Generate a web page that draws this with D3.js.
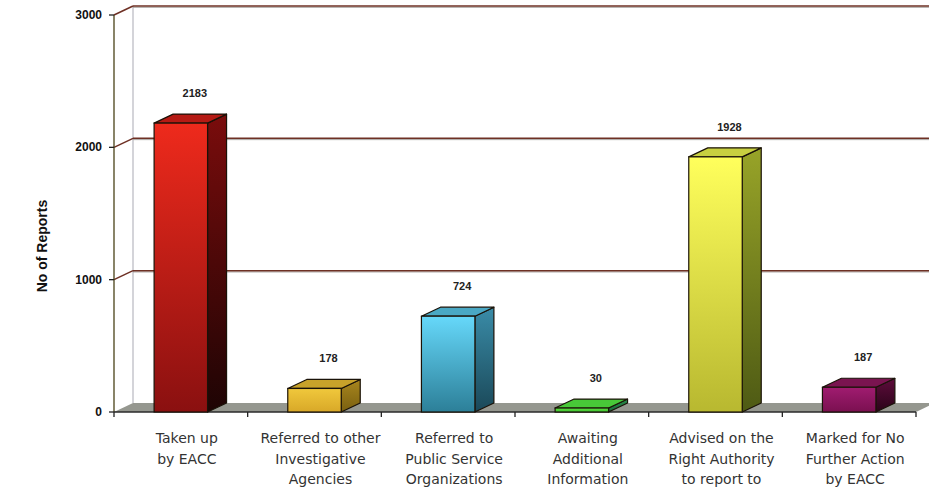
<!DOCTYPE html>
<html>
<head>
<meta charset="utf-8">
<script src="https://cdn.jsdelivr.net/npm/d3@7"></script>
<style>
  body { margin: 0; background: #fff; }
  svg { display: block; }
</style>
</head>
<body>
<div class="svg-container"></div>
<script>
// report outcomes
var categories = ["Taken up by EACC", "Referred to other Investigative Agencies",
  "Referred to Public Service Organizations", "Awaiting Additional Information",
  "Advised on the Right Authority to report to", "Marked for No Further Action by EACC"];
var labelLines = [
  ["Taken up", "by EACC"],
  ["Referred to other", "Investigative", "Agencies"],
  ["Referred to", "Public Service", "Organizations"],
  ["Awaiting", "Additional", "Information"],
  ["Advised on the", "Right Authority", "to report to"],
  ["Marked for No", "Further Action", "by EACC"]
];
var reports = [2183, 178, 724, 30, 1928, 187];
var yTicks = [0, 1000, 2000, 3000];

// front, side, top, gradient bottom colours per bar
var barColors = [
  { top: "#ee2a1c", bot: "#8a1010", side: "#7a0c0c", sideBot: "#1e0404", cap: "#b51a14" },
  { top: "#f0c83c", bot: "#d8a828", side: "#a8861e", sideBot: "#7a6010", cap: "#c8a22a" },
  { top: "#66d8fa", bot: "#2c7f98", side: "#3a8ca8", sideBot: "#1a4858", cap: "#4aa8c4" },
  { top: "#5ee040", bot: "#3cc030", side: "#2a8a4a", sideBot: "#1a6a3a", cap: "#48c838" },
  { top: "#ffff5c", bot: "#b8b830", side: "#98a428", sideBot: "#4e5a14", cap: "#c8d040" },
  { top: "#a01c70", bot: "#7a1050", side: "#5e0c3c", sideBot: "#2a0418", cap: "#7a1450" }
];

var W = 929, H = 487;
var dx = 19, dy = -9;   // depth of the 3D box

var svg = d3.select(".svg-container").append("svg")
  .attr("width", W)
  .attr("height", H);

var x = d3.scaleBand().domain(categories).range([114, 916])
  .paddingInner(0.6).paddingOuter(0.3);
var step = x.step();
var y = d3.scaleLinear().domain([0, 3000]).range([412, 15]);

var defs = svg.append("defs");
barColors.forEach(function(c, i) {
  var g = defs.append("linearGradient").attr("id", "front" + i)
    .attr("x1", 0).attr("y1", 0).attr("x2", 0).attr("y2", 1);
  g.append("stop").attr("offset", "0%").attr("stop-color", c.top);
  g.append("stop").attr("offset", "100%").attr("stop-color", c.bot);
  var s = defs.append("linearGradient").attr("id", "side" + i)
    .attr("x1", 0).attr("y1", 0).attr("x2", 0).attr("y2", 1);
  s.append("stop").attr("offset", "0%").attr("stop-color", c.side);
  s.append("stop").attr("offset", "100%").attr("stop-color", c.sideBot);
});

var x0 = 114, x1 = 916;

// floor
svg.append("path")
  .attr("d", "M" + x0 + "," + y(0) + "L" + x1 + "," + y(0) + "L" + (x1 + dx) + "," + (y(0) + dy) +
    "L" + (x0 + dx) + "," + (y(0) + dy) + "Z")
  .attr("fill", "#95978f");

// back wall left edge
svg.append("line")
  .attr("x1", x0 + dx).attr("x2", x0 + dx)
  .attr("y1", y(3000) + dy).attr("y2", y(0) + dy)
  .attr("stroke", "#b8b8c0").attr("stroke-width", 1.2);

// gridlines on side wall and back wall
yTicks.filter(function(t) { return t > 0; }).forEach(function(t) {
  svg.append("line")
    .attr("x1", x0 + dx).attr("x2", W)
    .attr("y1", y(t) + dy + 1.3).attr("y2", y(t) + dy + 1.3)
    .attr("stroke", "#a8a4a0").attr("stroke-width", 1);
  svg.append("line")
    .attr("x1", x0 + dx).attr("x2", W)
    .attr("y1", y(t) + dy).attr("y2", y(t) + dy)
    .attr("stroke", "#6e3024").attr("stroke-width", 1.5);
  svg.append("line")
    .attr("x1", x0).attr("x2", x0 + dx)
    .attr("y1", y(t)).attr("y2", y(t) + dy)
    .attr("stroke", "#6e3024").attr("stroke-width", 1.5);
});

// front y axis
svg.append("line")
  .attr("x1", x0).attr("x2", x0)
  .attr("y1", y(3000)).attr("y2", y(0))
  .attr("stroke", "#4a4218").attr("stroke-width", 1.3);
svg.append("line")
  .attr("x1", x0).attr("x2", x1)
  .attr("y1", y(0)).attr("y2", y(0))
  .attr("stroke", "#2a2a2a").attr("stroke-width", 1.3);

svg.selectAll(".ytick").data(yTicks).enter().append("line")
  .attr("x1", x0 - 5).attr("x2", x0)
  .attr("y1", function(d) { return y(d); })
  .attr("y2", function(d) { return y(d); })
  .attr("stroke", "#222").attr("stroke-width", 1.3);

svg.selectAll(".ylab").data(yTicks).enter().append("text")
  .attr("x", 102)
  .attr("y", function(d) { return y(d) + 4; })
  .attr("text-anchor", "end")
  .attr("font-family", "Liberation Sans, Arial, sans-serif")
  .attr("font-weight", "bold")
  .attr("font-size", "12px")
  .attr("fill", "#111")
  .text(function(d) { return d; });

// category boundary ticks
var bounds = d3.range(categories.length + 1).map(function(i) { return x0 + i * step; });
svg.selectAll(".xtick").data(bounds).enter().append("line")
  .attr("x1", function(d) { return d; })
  .attr("x2", function(d) { return d; })
  .attr("y1", y(0)).attr("y2", y(0) + 5)
  .attr("stroke", "#222").attr("stroke-width", 1.3);

svg.append("text")
  .attr("transform", "translate(47,246) rotate(-90)")
  .attr("text-anchor", "middle")
  .attr("font-family", "Liberation Sans, Arial, sans-serif")
  .attr("font-weight", "bold")
  .attr("font-size", "14px")
  .attr("fill", "#111")
  .text("No of Reports");

// bars
var bars = svg.selectAll(".bar").data(reports).enter().append("g");
var bw = x.bandwidth();
bars.each(function(v, i) {
  var g = d3.select(this);
  var bx = x(categories[i]), top = y(v), base = y(0);
  g.append("path")
    .attr("d", "M" + (bx + bw) + "," + base + "L" + (bx + bw + dx) + "," + (base + dy) +
      "L" + (bx + bw + dx) + "," + (top + dy) + "L" + (bx + bw) + "," + top + "Z")
    .attr("fill", "url(#side" + i + ")")
    .attr("stroke", "#1a1208").attr("stroke-width", 1.2).attr("stroke-linejoin", "round");
  g.append("path")
    .attr("d", "M" + bx + "," + top + "L" + (bx + dx) + "," + (top + dy) +
      "L" + (bx + bw + dx) + "," + (top + dy) + "L" + (bx + bw) + "," + top + "Z")
    .attr("fill", barColors[i].cap)
    .attr("stroke", "#1a1208").attr("stroke-width", 1.2).attr("stroke-linejoin", "round");
  g.append("rect")
    .attr("x", bx).attr("y", top)
    .attr("width", bw).attr("height", base - top)
    .attr("fill", "url(#front" + i + ")")
    .attr("stroke", "#1a1208").attr("stroke-width", 1.2);
});

// value labels
svg.selectAll(".val").data(reports).enter().append("text")
  .attr("x", function(d, i) { return x(categories[i]) + bw / 2 + 14; })
  .attr("y", function(d) { return y(d) - 26; })
  .attr("text-anchor", "middle")
  .attr("font-family", "Liberation Sans, Arial, sans-serif")
  .attr("font-weight", "bold")
  .attr("font-size", "11px")
  .attr("fill", "#222")
  .text(function(d) { return d; });

// category labels
var cl = svg.selectAll(".cat").data(labelLines).enter().append("text")
  .attr("text-anchor", "middle")
  .attr("font-family", "DejaVu Sans, Verdana, sans-serif")
  .attr("font-size", "14px")
  .attr("fill", "#333");
cl.selectAll("tspan").data(function(d, i) {
  return d.map(function(s) { return { s: s, i: i }; });
}).enter().append("tspan")
  .attr("x", function(d) { return x(categories[d.i]) + bw / 2 + 6; })
  .attr("y", function(d, j) { return 443 + j * 20.5; })
  .text(function(d) { return d.s; });
</script>
</body>
</html>
